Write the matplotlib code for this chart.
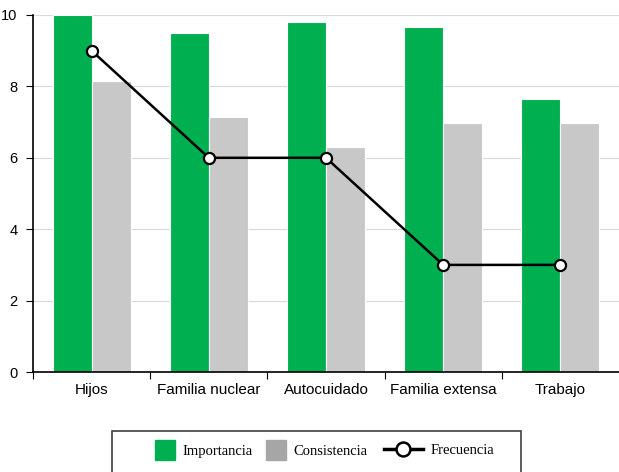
import numpy as np
import matplotlib.pyplot as plt
from matplotlib.patches import Patch, Rectangle
from matplotlib.lines import Line2D
from matplotlib.legend_handler import HandlerPatch

categorias = ['Hijos', 'Familia nuclear', 'Autocuidado', 'Familia extensa', 'Trabajo']
importancia = [10.0, 9.5, 9.8, 9.65, 7.65]
consistencia = [8.15, 7.15, 6.3, 6.97, 6.97]
frecuencia = [9, 6, 6, 3, 3]

verde = '#00AF50'
gris = '#C8C8C8'

fig = plt.figure(figsize=(6.19, 4.72), dpi=100)
ax = fig.add_axes([33/619, 100/472, 586/619, 357/472])

x = np.arange(len(categorias))
w = 1/3
ax.bar(x - w/2, importancia, w, color=verde, edgecolor='white', linewidth=0.8, zorder=2)
ax.bar(x + w/2, consistencia, w, color=gris, edgecolor='white', linewidth=0.8, zorder=2)
ax.plot(x, frecuencia, color='black', lw=1.8, marker='o', ms=8,
        mfc='white', mec='black', mew=1.6, zorder=3)

ax.set_xlim(-0.5, len(categorias) - 0.5)
ax.set_ylim(0, 10)
ax.set_yticks(range(0, 11, 2))
ax.yaxis.grid(True, color='#D9D9D9', lw=0.8, zorder=0)
ax.set_axisbelow(True)

# ticks en los limites entre categorias (sin el ultimo), etiquetas centradas
ax.set_xticks(np.arange(-0.5, len(categorias) - 1, 1))
ax.set_xticklabels([])
ax.set_xticks(x, minor=True)
ax.set_xticklabels(categorias, minor=True, fontsize=11, family='Liberation Sans')
ax.tick_params(axis='x', which='minor', length=0, pad=8)
ax.tick_params(axis='x', which='major', length=5, direction='out')
ax.tick_params(axis='y', length=5, labelsize=10.5, pad=6)
for t in ax.get_yticklabels():
    t.set_family('Liberation Sans')

for s in ['top', 'right']:
    ax.spines[s].set_visible(False)
ax.spines['left'].set_linewidth(1.2)
ax.spines['bottom'].set_linewidth(1.2)

# caja de la leyenda (se sale por abajo como en el original)
fig.patches.append(Rectangle((112/619, -0.02), 409/619, 0.02 + 41/472,
                             transform=fig.transFigure, fill=False,
                             edgecolor='#404040', lw=1.2))


def cuadrado(legend, orig_handle, xdescent, ydescent, width, height, fontsize):
    lado = 14.4  # puntos (20 px)
    return Rectangle((-xdescent, height/2 - lado/2 - ydescent), lado, lado)


fuente = {'family': 'Liberation Serif', 'size': 10.5}
y_ley = 1 - 450/472

# dos leyendas: los cuadrados y la linea tienen largos distintos
fig.legend(handles=[Patch(color=verde, label='Importancia'),
                    Patch(color='#A6A6A6', label='Consistencia')],
           loc='center left', bbox_to_anchor=(155/619, y_ley), ncol=2,
           frameon=False, prop=fuente, handlelength=1.37, handleheight=1.37,
           columnspacing=0.95, handletextpad=0.5, borderpad=0, borderaxespad=0,
           handler_map={Patch: HandlerPatch(patch_func=cuadrado)})

linea = Line2D([], [], color='black', lw=2.5, marker='o', ms=10, mfc='white',
               mec='black', mew=1.8, label='Frecuencia')
fig.legend(handles=[linea], loc='center left', bbox_to_anchor=(384/619, y_ley),
           frameon=False, prop=fuente, handlelength=2.67, handletextpad=0.5,
           borderpad=0, borderaxespad=0)

fig.savefig('out.png', dpi=100)
